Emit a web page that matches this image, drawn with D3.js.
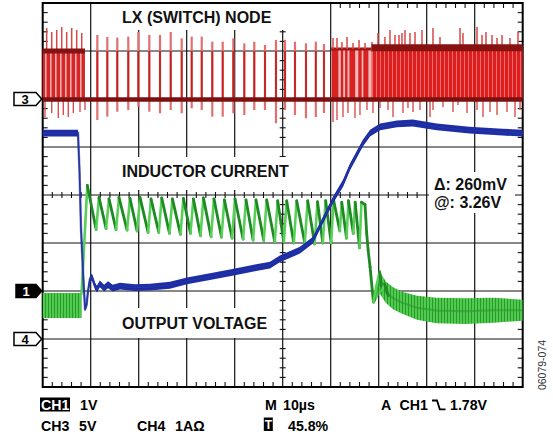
<!DOCTYPE html>
<html><head><meta charset="utf-8">
<script src="https://cdn.jsdelivr.net/npm/d3@7/dist/d3.min.js"></script>
<style>
html,body{margin:0;padding:0;background:#fff;}
svg{display:block;font-family:"Liberation Sans",Arial,Helvetica,sans-serif;}
</style></head><body>
<svg id="c" width="553" height="440"></svg>
<script>
// ---------------- DATA ----------------
const timeDomainUs = [0, 100];          // 10 µs/div, 10 divisions
const divDomain = [-4, 4];              // 8 vertical divisions
const gridTimes = [10, 20, 30, 40, 50, 60, 70, 80, 90];
const gridDivs = [-3, -2, -1, 0, 1, 2, 3];

// channel settings: ground offset (div), units per div
const ch3 = { name: "3", offset: 2, perDiv: 5 };   // LX node, 5 V/div
const ch1 = { name: "1", offset: -2, perDiv: 1 };  // output voltage, 1 V/div
const ch4 = { name: "4", offset: -3, perDiv: 1 };  // inductor current, 1 A/div

// CH3 (LX switch node) — volts
const redLow = -0.05;
const redDenseSpans = [[0, 8.8, 5.0], [68.5, 100, 5.35]];   // [t0, t1, high level V]
const redMidSpan = [60.1, 68.5, 5.2];
const redMidPulses = [[60.2, 61.6], [62.1, 62.6], [63.0, 63.5], [63.9, 65.1], [65.75, 66.45], [66.8, 67.85]];
const redSparsePulses = [ // [t µs, overshoot top V, undershoot V]
  [11.38, 6.67, -2.19], [13.46, 6.46, -1.84], [15.54, 6.4, -1.32], [17.83, 6.5, -1.15],
  [19.92, 6.98, -0.8], [22.21, 6.67, -1.32], [24.44, 6.67, -1.49], [26.67, 6.98, -1.15],
  [28.96, 6.32, -1.49], [31.04, 6.5, -0.97], [33.13, 6.5, -1.15], [35.33, 5.97, -1.84],
  [37.5, 5.97, -1.84], [39.71, 6.32, -1.49], [42.0, 5.8, -1.67], [44.08, 5.97, -1.15],
  [46.31, 5.63, -1.15], [48.6, 6.15, -2.53], [50.48, 6.15, -1.15], [52.56, 5.97, -1.67],
  [54.85, 5.8, -2.01], [56.9, 5.97, -1.88], [58.6, 5.73, -1.46]
];
const redSpikesUp = [
  [0.83, 7.4], [1.88, 6.98], [2.92, 7.19], [3.96, 7.5], [5.0, 6.98], [6.04, 7.4], [7.08, 7.19], [8.13, 6.88],
  [60.48, 6.35], [61.31, 6.35], [62.35, 5.94], [63.4, 6.46], [64.65, 5.83], [65.9, 6.15], [67.15, 5.83],
  [68.6, 5.94], [69.85, 6.88], [71.3, 6.46], [72.35, 7.19], [73.4, 6.67], [74.23, 6.67], [74.85, 6.88],
  [75.48, 7.19], [76.52, 6.88], [77.56, 6.98], [79.02, 7.19], [81.31, 7.4], [82.77, 6.46], [86.94, 7.4],
  [87.56, 6.88], [90.48, 7.5], [91.52, 6.67], [92.35, 6.98], [93.6, 6.67], [94.65, 6.35], [95.69, 6.67],
  [97.35, 6.35], [99.02, 6.98]
];
const redSpikesDown = [
  [0.48, -1.88], [1.88, -1.46], [3.25, -1.98], [4.29, -1.67], [5.33, -1.88], [6.38, -1.46], [7.77, -1.35], [8.81, -1.15],
  [60.48, -2.4], [61.31, -2.19], [62.56, -1.88], [63.6, -1.46], [65.06, -1.98], [66.1, -1.67], [67.56, -1.15],
  [68.81, -1.46], [70.27, -0.94], [71.94, -1.15], [72.98, -1.88], [75.06, -1.46], [76.1, -0.94], [77.15, -1.35],
  [78.6, -1.15], [80.69, -1.88], [81.31, -1.15], [83.4, -0.83], [85.48, -1.35], [86.52, -0.63], [88.4, -1.46],
  [90.48, -1.15], [91.73, -1.88], [93.19, -1.35], [94.65, -1.67], [96.73, -1.35], [98.4, -1.88], [99.44, -1.15]
];

// CH1 (output voltage) — [t µs, V]
const blueV = [
  [0, 3.29], [7.35, 3.29], [7.67, 2.5], [7.98, 1.3], [8.4, 0.4], [8.81, -0.35], [9.13, -0.3], [9.44, 0.0],
  [9.85, 0.25], [10.27, 0.29], [10.9, 0.1], [11.3, 0.04], [11.9, 0.15], [12.8, 0.06], [13.6, 0.13], [14.6, 0.06],
  [16.1, 0.1], [19.2, 0.07], [22.35, 0.08], [26.5, 0.12], [30.06, 0.21], [34.85, 0.3], [40.06, 0.4], [44.2, 0.48],
  [47.35, 0.54], [49.4, 0.67], [53.6, 0.85], [56.3, 1.06], [58.4, 1.48], [60.5, 1.9], [62.6, 2.25], [64.0, 2.58],
  [66.7, 3.08], [68.2, 3.29], [70.3, 3.42], [73.8, 3.48], [77.1, 3.5], [82.1, 3.42], [88.9, 3.35], [95.8, 3.31], [100, 3.29]
];

// CH4 (inductor current) — amps
const greenStartBand = [[0, 0.44, 0.96], [8.1, 0.44, 0.96]];   // [t, lo, hi]
const greenWave = [
  [8.1, 0.95], [9.3, 3.2],
  [11.13, 2.28], [11.73, 2.95], [13.21, 2.30], [13.81, 2.92], [15.29, 2.28], [15.89, 2.95],
  [17.58, 2.27], [18.18, 2.93], [19.67, 2.25], [20.27, 2.95], [21.96, 2.22], [22.56, 2.92],
  [24.19, 2.22], [24.79, 2.94], [26.42, 2.20], [27.02, 2.92], [28.71, 2.18], [29.31, 2.93],
  [30.79, 2.20], [31.39, 2.92], [32.88, 2.15], [33.48, 2.94], [35.08, 2.13], [35.68, 2.92],
  [37.25, 2.12], [37.85, 2.90], [39.46, 2.10], [40.06, 2.92], [41.75, 2.08], [42.35, 2.90],
  [43.83, 2.06], [44.43, 2.90], [46.06, 2.05], [46.66, 2.90], [48.35, 2.02], [48.95, 2.88],
  [50.23, 2.02], [50.83, 2.88], [52.31, 2.00], [52.91, 2.88], [54.60, 2.00], [55.20, 2.88],
  [56.65, 1.98], [57.25, 2.86], [58.35, 2.00], [58.95, 2.88],
  [60.1, 2.0], [60.6, 2.9], [61.9, 2.25], [62.3, 2.85], [63.3, 2.1], [63.7, 2.88],
  [64.7, 2.2], [65.1, 2.85], [66.0, 1.9], [66.4, 2.85],
  [67.15, 2.8], [67.5, 2.2], [67.8, 1.85], [68.2, 1.5], [68.9, 0.77], [69.5, 1.1], [70.2, 1.4],
  [70.7, 1.0], [71.2, 1.15], [72.0, 0.9]
];
const greenEndBand = [
  [69.0, 0.72, 0.95], [70.2, 0.95, 1.4], [71.5, 0.75, 1.2], [73, 0.62, 1.08], [75, 0.52, 0.98],
  [78, 0.4, 0.9], [82, 0.33, 0.86], [88, 0.31, 0.85], [94, 0.34, 0.86], [100, 0.38, 0.82]
];

// ---------------- DRAW ----------------
const svg = d3.select("#c");
const X = d3.scaleLinear().domain(timeDomainUs).range([42.7, 522.7]);
const Yd = d3.scaleLinear().domain(divDomain).range([387, 3]);
const chY = ch => v => Yd(ch.offset + v / ch.perDiv);
const yR = chY(ch3), yB = chY(ch1), yG = chY(ch4);

const defs = svg.append("defs");
function stripes(id, w, base, stripe, sw) {
  const p = defs.append("pattern").attr("id", id).attr("patternUnits", "userSpaceOnUse")
    .attr("width", w).attr("height", 8);
  p.append("rect").attr("width", w).attr("height", 8).attr("fill", base);
  p.append("rect").attr("width", sw).attr("height", 8).attr("fill", stripe);
}
stripes("redA", 5, "#d42626", "#f1aaaa", 1.6);
stripes("redB", 4, "#dc1e1e", "#ee7474", 0.9);
stripes("grn", 3, "#4fcb4f", "#2b9a2b", 1);

const grid = svg.append("g");
grid.selectAll(".vg").data(gridTimes).join("line")
  .attr("x1", d => X(d)).attr("x2", d => X(d)).attr("y1", Yd(4)).attr("y2", Yd(-4))
  .attr("stroke", "#111").attr("stroke-width", 1.2);
grid.selectAll(".hg").data(gridDivs).join("line")
  .attr("y1", d => Yd(d)).attr("y2", d => Yd(d)).attr("x1", X(0)).attr("x2", X(100))
  .attr("stroke", "#111").attr("stroke-width", 1.2);

// minor ticks
const minorT = d3.range(2, 100, 2).filter(t => t % 10 !== 0);
const minorD = d3.range(-3.8, 4, 0.2).map(v => +v.toFixed(1)).filter(v => Math.abs(v - Math.round(v)) > 0.01);
const tk = grid.append("g").attr("stroke", "#111").attr("stroke-width", 1.1);
minorT.forEach(t => {
  tk.append("line").attr("x1", X(t)).attr("x2", X(t)).attr("y1", Yd(-4)).attr("y2", Yd(-4) - 5);
  if (t > 60) tk.append("line").attr("x1", X(t)).attr("x2", X(t)).attr("y1", Yd(4)).attr("y2", Yd(4) + 5);
  tk.append("line").attr("x1", X(t)).attr("x2", X(t)).attr("y1", Yd(0) - 3).attr("y2", Yd(0) + 3);
});
minorD.forEach(v => {
  tk.append("line").attr("y1", Yd(v)).attr("y2", Yd(v)).attr("x1", X(0)).attr("x2", X(0) + 5);
  tk.append("line").attr("y1", Yd(v)).attr("y2", Yd(v)).attr("x1", X(100)).attr("x2", X(100) - 5);
  tk.append("line").attr("y1", Yd(v)).attr("y2", Yd(v)).attr("x1", X(50) - 3).attr("x2", X(50) + 3);
});
grid.append("rect").attr("x", X(0)).attr("y", Yd(4)).attr("width", X(100) - X(0)).attr("height", Yd(-4) - Yd(4))
  .attr("fill", "none").attr("stroke", "#000").attr("stroke-width", 2);

// label boxes (white) and labels
const boxes = [[93, 4, 236, 26], [115, 157, 175, 33], [115, 308, 161, 30], [429, 172, 86, 41]];
boxes.forEach(b => svg.append("rect").attr("x", b[0]).attr("y", b[1]).attr("width", b[2]).attr("height", b[3]).attr("fill", "#fff"));
const lbl = (x, y, s, size) => svg.append("text").attr("x", x).attr("y", y).text(s)
  .attr("font-weight", "bold").attr("font-size", size).attr("fill", "#111");
lbl(122, 22.5, "LX (SWITCH) NODE", 16);
lbl(122, 177, "INDUCTOR CURRENT", 16);
lbl(122, 328.5, "OUTPUT VOLTAGE", 16);
lbl(434, 190, "Δ: 260mV", 16);
lbl(434, 208, "@: 3.26V", 16);

// ---- green (CH4) ----
const gG = svg.append("g");
const bandArea = d3.area().x(d => X(d[0])).y0(d => yG(d[1])).y1(d => yG(d[2]));
gG.append("path").attr("d", bandArea(greenStartBand)).attr("fill", "url(#grn)");
gG.append("path").attr("d", bandArea(greenEndBand)).attr("fill", "url(#grn)");
gG.append("path").attr("d", d3.line().x(d => X(d[0])).y(d => yG((d[1] + d[2]) / 2))(greenEndBand))
  .attr("fill", "none").attr("stroke", "#2a8f2a").attr("stroke-width", 2).attr("stroke-opacity", 0.5);
d3.pairs(greenWave).forEach(([a, b]) => {
  const rising = b[1] > a[1];
  gG.append("line").attr("x1", X(a[0])).attr("y1", yG(a[1])).attr("x2", X(b[0])).attr("y2", yG(b[1]))
    .attr("stroke", rising ? "#58d058" : "#1f8a24").attr("stroke-width", rising ? 2.6 : 2.8)
    .attr("stroke-linecap", "round");
});

// ---- blue (CH1) ----
const gB = svg.append("g");
gB.append("path").attr("d", d3.area().x(d => X(d[0])).y0(d => yB(d[1]) + 3.4).y1(d => yB(d[1]) - 3.4)(blueV))
  .attr("fill", "#1f2fa6");
gB.append("path").attr("d", d3.line().x(d => X(d[0])).y(d => yB(d[1]))(blueV))
  .attr("fill", "none").attr("stroke", "#3450cc").attr("stroke-width", 1.6);
gB.append("path").attr("d", d3.line().x(d => X(d[0])).y(d => yB(d[1]))(blueV))
  .attr("fill", "none").attr("stroke", "#0f1a86").attr("stroke-width", 2.5).attr("stroke-opacity", 0.5);

// ---- red (CH3) ----
const gR = svg.append("g");
gR.append("rect").attr("x", X(redMidSpan[0])).attr("width", X(redMidSpan[1]) - X(redMidSpan[0]))
  .attr("y", yR(redMidSpan[2])).attr("height", yR(0) - yR(redMidSpan[2])).attr("fill", "#f3b8b8");
redMidPulses.forEach(p => gR.append("rect").attr("x", X(p[0])).attr("width", X(p[1]) - X(p[0]))
  .attr("y", yR(redMidSpan[2])).attr("height", yR(0) - yR(redMidSpan[2])).attr("fill", "#d82222"));
gR.append("line").attr("x1", X(redMidSpan[0])).attr("x2", X(redMidSpan[1]))
  .attr("y1", yR(redMidSpan[2])).attr("y2", yR(redMidSpan[2])).attr("stroke", "#a01515").attr("stroke-width", 3);
redDenseSpans.forEach((s, i) => {
  gR.append("rect").attr("x", X(s[0])).attr("width", X(s[1]) - X(s[0]))
    .attr("y", yR(s[2])).attr("height", yR(0) - yR(s[2])).attr("fill", i === 0 ? "url(#redA)" : "url(#redB)");
});
redSpikesUp.forEach(d => {
  const span = redDenseSpans.find(s => d[0] >= s[0] && d[0] <= s[1]);
  const base = span ? span[2] : redMidSpan[2];
  gR.append("line").attr("x1", X(d[0])).attr("x2", X(d[0])).attr("y1", yR(base)).attr("y2", yR(d[1]))
    .attr("stroke", "#d84848").attr("stroke-width", 1.5);
});
redSpikesDown.forEach(d => gR.append("line").attr("x1", X(d[0])).attr("x2", X(d[0]))
  .attr("y1", yR(0)).attr("y2", yR(d[1])).attr("stroke", "#d85050").attr("stroke-width", 1.4));
redSparsePulses.forEach(d => {
  gR.append("line").attr("x1", X(d[0])).attr("x2", X(d[0])).attr("y1", yR(d[2])).attr("y2", yR(d[1]))
    .attr("stroke", "#e07070").attr("stroke-width", 2.2);
  gR.append("line").attr("x1", X(d[0])).attr("x2", X(d[0])).attr("y1", yR(0)).attr("y2", yR(5.0))
    .attr("stroke", "#c42020").attr("stroke-width", 1.8);
});
redDenseSpans.forEach((s, i) => gR.append("line").attr("x1", X(s[0])).attr("x2", X(s[1]))
  .attr("y1", yR(s[2])).attr("y2", yR(s[2])).attr("stroke", "#861212").attr("stroke-width", i === 0 ? 5 : 7));
gR.append("line").attr("x1", X(0)).attr("x2", X(100)).attr("y1", yR(redLow)).attr("y2", yR(redLow))
  .attr("stroke", "#7a1010").attr("stroke-width", 4.5);

// ---- channel markers ----
[[ch3, false], [ch1, true], [ch4, false]].forEach(([ch, filled]) => {
  const y = Yd(ch.offset), x0 = filled ? 16 : 14;
  svg.append("path").attr("d", `M${x0},${y - 6.5}H36L41.7,${y}L36,${y + 6.5}H${x0}Z`)
    .attr("fill", filled ? "#000" : "#fff").attr("stroke", "#000").attr("stroke-width", 1.5);
  svg.append("text").attr("x", (x0 + 36) / 2).attr("y", y + 4.8).attr("text-anchor", "middle")
    .attr("font-weight", "bold").attr("font-size", 13).attr("fill", filled ? "#fff" : "#000").text(ch.name);
});

// ---- bottom readout ----
const rt = (x, y, s, fill) => svg.append("text").attr("x", x).attr("y", y).text(s)
  .attr("font-weight", "bold").attr("font-size", 14.2).attr("fill", fill || "#000");
svg.append("rect").attr("x", 40).attr("y", 397.5).attr("width", 30).attr("height", 14).attr("fill", "#000");
rt(41, 410, "CH1", "#fff");
rt(80, 410, "1V");
rt(265, 410, "M");
rt(283, 410, "10µs");
rt(381, 410, "A");
rt(399.5, 410, "CH1");
svg.append("path").attr("d", "M432,400.5H437L439.8,409.3H445.5").attr("fill", "none")
  .attr("stroke", "#000").attr("stroke-width", 1.8);
rt(450, 410, "1.78V");
rt(41, 430.5, "CH3");
rt(79, 430.5, "5V");
rt(137, 430.5, "CH4");
rt(175, 430.5, "1AΩ");
svg.append("rect").attr("x", 263.8).attr("y", 417.5).attr("width", 9).attr("height", 13.5).attr("fill", "#000");
svg.append("text").attr("x", 268.3).attr("y", 429).attr("text-anchor", "middle").attr("font-weight", "bold")
  .attr("font-size", 12).attr("fill", "#fff").text("T");
rt(288, 430.5, "45.8%");
svg.append("text").attr("transform", "translate(546,365) rotate(-90)").attr("text-anchor", "middle")
  .attr("font-size", 10.5).attr("fill", "#333").text("06079-074");
</script>
</body></html>
